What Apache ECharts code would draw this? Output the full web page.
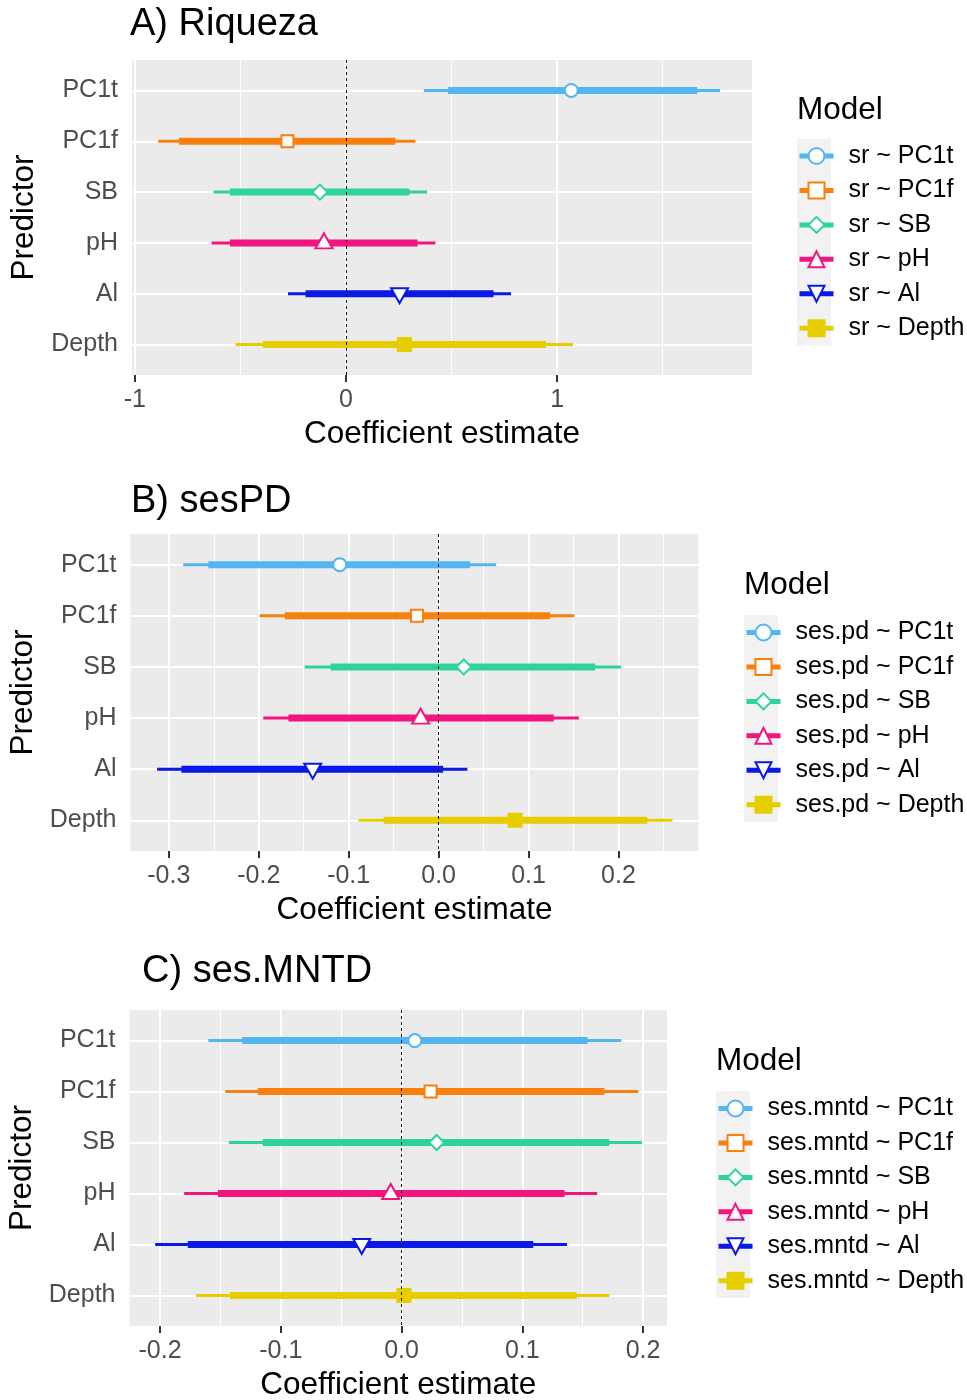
<!DOCTYPE html>
<html>
<head>
<meta charset="utf-8">
<script src="https://cdn.jsdelivr.net/npm/echarts@6/dist/echarts.min.js"></script>
<style>
  html, body { margin: 0; padding: 0; background: #ffffff; }
  #chart { width: 967px; height: 1400px; }
</style>
</head>
<body>
<div id="chart"></div>
<script>
// Predictors, top to bottom on every panel
const predictors = ['PC1t', 'PC1f', 'SB', 'pH', 'Al', 'Depth'];
const modelPrefixes = ['sr', 'ses.pd', 'ses.mntd'];
const panelTitles = ['A) Riqueza', 'B) sesPD', 'C) ses.MNTD'];

// A) species richness: point estimate, inner and outer intervals
const srEstimate  = [1.067, -0.277, -0.123, -0.104, 0.254, 0.277];
const srInnerLow  = [0.484, -0.790, -0.549, -0.549, -0.191, -0.393];
const srInnerHigh = [1.663, 0.234, 0.301, 0.339, 0.699, 0.947];
const srOuterLow  = [0.369, -0.889, -0.627, -0.636, -0.274, -0.523];
const srOuterHigh = [1.772, 0.330, 0.384, 0.424, 0.782, 1.075];

// B) standardized effect size of phylogenetic diversity
const pdEstimate  = [-0.110, -0.024, 0.028, -0.020, -0.140, 0.085];
const pdInnerLow  = [-0.256, -0.171, -0.120, -0.167, -0.286, -0.061];
const pdInnerHigh = [0.035, 0.124, 0.174, 0.128, 0.005, 0.232];
const pdOuterLow  = [-0.284, -0.199, -0.149, -0.195, -0.313, -0.089];
const pdOuterHigh = [0.064, 0.151, 0.203, 0.156, 0.032, 0.260];

// C) standardized effect size of mean nearest taxon distance
const mntdEstimate  = [0.011, 0.024, 0.029, -0.009, -0.033, 0.002];
const mntdInnerLow  = [-0.132, -0.119, -0.115, -0.152, -0.177, -0.142];
const mntdInnerHigh = [0.154, 0.168, 0.172, 0.135, 0.109, 0.145];
const mntdOuterLow  = [-0.160, -0.146, -0.143, -0.180, -0.204, -0.170];
const mntdOuterHigh = [0.182, 0.196, 0.199, 0.162, 0.137, 0.172];

// Axis ticks (labelled) and minor grid values
const srTicks = [-1, 0, 1];
const srTickLabels = ['-1', '0', '1'];
const srMinor = [-0.5, 0.5, 1.5];
const pdTicks = [-0.3, -0.2, -0.1, 0, 0.1, 0.2];
const pdTickLabels = ['-0.3', '-0.2', '-0.1', '0.0', '0.1', '0.2'];
const pdMinor = [-0.25, -0.15, -0.05, 0.05, 0.15, 0.25];
const mntdTicks = [-0.2, -0.1, 0, 0.1, 0.2];
const mntdTickLabels = ['-0.2', '-0.1', '0.0', '0.1', '0.2'];
const mntdMinor = [-0.15, -0.05, 0.05, 0.15];

// Styling per predictor
const colors = ['#53B5F2', '#F7800E', '#2DD49A', '#F2157F', '#0A19E6', '#E5CD00'];
const downTriangle = 'path://M0,0L10,0L5,10Z';
const shapes = ['circle', 'rect', 'diamond', 'triangle', downTriangle, 'rect'];
const shapeSizes = [13, 12, 15, [17, 15], [17, 15], 13];
const shapeOffsets = [[0, 0], [0, 0], [0, 0], [0, -2], [0, 2], [0, 0]];
const shapeFilled = [false, false, false, false, false, true];

const FONT = "'Liberation Sans', Arial, Helvetica, sans-serif";

// Panel geometry
const layout = [
  { grid: { left: 132, top: 60, width: 620, height: 315 }, xMin: -1.013, xMax: 1.923,
    titleLeft: 130, titleTop: 6, legendLeft: 797, firstItem: 156, modelTop: 94 },
  { grid: { left: 130.5, top: 534, width: 568, height: 317 }, xMin: -0.3426, xMax: 0.289,
    titleLeft: 131, titleTop: 483, legendLeft: 744, firstItem: 632.5, modelTop: 569 },
  { grid: { left: 129.5, top: 1010, width: 537.5, height: 316 }, xMin: -0.2253, xMax: 0.2198,
    titleLeft: 142, titleTop: 953, legendLeft: 716, firstItem: 1108.5, modelTop: 1045 }
];

const panelData = [
  { est: srEstimate, inLo: srInnerLow, inHi: srInnerHigh, outLo: srOuterLow, outHi: srOuterHigh,
    ticks: srTicks, tickLabels: srTickLabels, minor: srMinor },
  { est: pdEstimate, inLo: pdInnerLow, inHi: pdInnerHigh, outLo: pdOuterLow, outHi: pdOuterHigh,
    ticks: pdTicks, tickLabels: pdTickLabels, minor: pdMinor },
  { est: mntdEstimate, inLo: mntdInnerLow, inHi: mntdInnerHigh, outLo: mntdOuterLow, outHi: mntdOuterHigh,
    ticks: mntdTicks, tickLabels: mntdTickLabels, minor: mntdMinor }
];

const ITEM_STEP = 34.45;   // vertical distance between legend entries
const ITEM_TEXT_H = 25;    // legend text line height

const grids = [], xAxes = [], yAxes = [], series = [], legends = [], titles = [], graphics = [];
const yPositions = predictors.map((_, i) => i + 1);

panelData.forEach((pd, p) => {
  const L = layout[p];
  const prefix = modelPrefixes[p];
  grids.push(Object.assign({
    show: true, backgroundColor: '#EBEBEB', borderWidth: 0,
    containLabel: false, outerBoundsMode: 'none'
  }, L.grid));

  xAxes.push({
    type: 'value', gridIndex: p, min: L.xMin, max: L.xMax,
    axisLine: { show: false },
    splitLine: { show: false },
    axisTick: { show: true, customValues: pd.ticks, length: 7, lineStyle: { color: '#333333', width: 2 } },
    axisLabel: {
      customValues: pd.ticks, margin: 13, color: '#4D4D4D', fontSize: 25, fontFamily: FONT,
      formatter: v => {
        const k = pd.ticks.findIndex(t => Math.abs(t - v) < 1e-9);
        return k >= 0 ? pd.tickLabels[k] : '';
      }
    },
    name: 'Coefficient estimate', nameLocation: 'middle', nameGap: 43,
    nameTextStyle: { fontSize: 31.5, color: '#000000', fontFamily: FONT }
  });

  yAxes.push({
    type: 'value', gridIndex: p, min: 0.4, max: 6.6, inverse: true,
    axisLine: { show: false },
    splitLine: { show: false },
    axisTick: { show: true, customValues: yPositions, length: 7, lineStyle: { color: '#333333', width: 2 } },
    axisLabel: {
      customValues: yPositions, margin: 14, color: '#4D4D4D', fontSize: 25, fontFamily: FONT,
      padding: [3, 0, 0, 0],
      formatter: v => predictors[Math.round(v) - 1] || ''
    },
    name: 'Predictor', nameLocation: 'middle', nameGap: 89,
    nameTextStyle: { fontSize: 31.5, color: '#000000', fontFamily: FONT }
  });

  // Panel grid lines (white), drawn beneath the intervals
  const gridLines = [];
  pd.ticks.forEach(v => gridLines.push({ xAxis: v, lineStyle: { width: 2 } }));
  pd.minor.forEach(v => gridLines.push({ xAxis: v, lineStyle: { width: 1 } }));
  yPositions.forEach(v => gridLines.push({ yAxis: v, lineStyle: { width: 2 } }));
  series.push({
    type: 'line', xAxisIndex: p, yAxisIndex: p, z: 1, data: [], silent: true,
    markLine: {
      z: 1, silent: true, animation: false, symbol: ['none', 'none'], label: { show: false },
      emphasis: { disabled: true },
      lineStyle: { color: '#FFFFFF', type: 'solid' },
      data: gridLines
    }
  });

  predictors.forEach((pr, i) => {
    const name = prefix + ' ~ ' + pr;
    const c = colors[i];
    const fill = shapeFilled[i] ? c : '#FFFFFF';
    const y = i + 1;
    // inner interval with point estimate
    series.push({
      type: 'line', name, xAxisIndex: p, yAxisIndex: p, z: 3, silent: true, animation: false,
      symbol: shapes[i], symbolSize: shapeSizes[i], symbolOffset: shapeOffsets[i],
      itemStyle: { color: fill, borderColor: c, borderWidth: 2 },
      lineStyle: { color: c, width: 7, cap: 'butt' },
      emphasis: { disabled: true },
      data: [
        { value: [pd.inLo[i], y], symbol: 'none' },
        [pd.est[i], y],
        { value: [pd.inHi[i], y], symbol: 'none' }
      ]
    });
    // outer interval
    series.push({
      type: 'line', name, xAxisIndex: p, yAxisIndex: p, z: 2, silent: true, animation: false,
      symbol: 'none', lineStyle: { color: c, width: 3, cap: 'butt' },
      emphasis: { disabled: true },
      data: [[pd.outLo[i], y], [pd.outHi[i], y]]
    });
  });

  // reference line at zero
  series.push({
    type: 'line', xAxisIndex: p, yAxisIndex: p, z: 4, data: [], silent: true,
    markLine: {
      z: 10, silent: true, animation: false, symbol: ['none', 'none'], label: { show: false },
      emphasis: { disabled: true },
      lineStyle: { color: '#111111', width: 1, type: [3, 3] },
      data: [{ xAxis: 0 }]
    }
  });

  titles.push({
    text: panelTitles[p], left: L.titleLeft, top: L.titleTop, padding: 0,
    textStyle: { fontSize: 38, fontWeight: 'normal', color: '#000000', fontFamily: FONT }
  });
  titles.push({
    text: 'Model', left: L.legendLeft, top: L.modelTop, padding: 0,
    textStyle: { fontSize: 31.5, fontWeight: 'normal', color: '#000000', fontFamily: FONT }
  });

  legends.push({
    orient: 'vertical', left: L.legendLeft, top: L.firstItem - ITEM_TEXT_H / 2,
    padding: 0, itemWidth: 34, itemHeight: 20, itemGap: ITEM_STEP - ITEM_TEXT_H,
    selectedMode: false,
    textStyle: { fontSize: 25, color: '#000000', fontFamily: FONT, padding: [0, 0, 0, 10] },
    data: predictors.map((pr, i) => ({
      name: prefix + ' ~ ' + pr,
      itemStyle: { color: shapeFilled[i] ? colors[i] : '#FFFFFF', borderColor: colors[i], borderWidth: 2 },
      lineStyle: { color: colors[i], width: 5 }
    }))
  });

  // light key background behind the legend glyphs
  graphics.push({
    type: 'rect', left: L.legendLeft, top: L.firstItem - ITEM_STEP / 2, z: -1, silent: true,
    shape: { width: 34, height: ITEM_STEP * predictors.length },
    style: { fill: '#F2F2F2' }
  });
});

const chart = echarts.init(document.getElementById('chart'), null, { renderer: 'canvas' });
chart.setOption({
  animation: false,
  backgroundColor: '#FFFFFF',
  textStyle: { fontFamily: FONT },
  title: titles,
  legend: legends,
  graphic: graphics,
  grid: grids,
  xAxis: xAxes,
  yAxis: yAxes,
  series: series
});
</script>
</body>
</html>
